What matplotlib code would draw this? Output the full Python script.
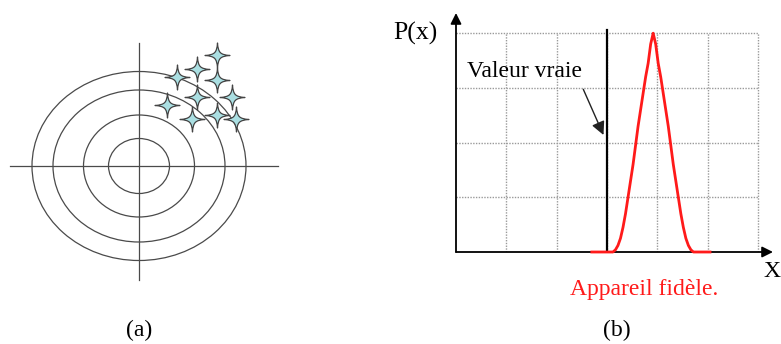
import matplotlib
matplotlib.use("Agg")
import matplotlib.pyplot as plt
from matplotlib.patches import Ellipse
from matplotlib.path import Path

plt.rcParams['font.family'] = ['Liberation Serif', 'DejaVu Serif']

# ---- panel (a): target with scattered shots (units: pixels from the centre)
ring_widths = [61, 111, 172, 214]
ring_heights = [55, 102, 152, 189]
shot_x = [78, 58, 38, 78, 58, 93, 28, 78, 53, 97]
shot_y = [111, 97, 89, 86, 69, 69, 61, 51, 47, 47]

# ---- panel (b): probability density of a faithful instrument (grid units)
true_value = 3.0
curve_x = [2.70, 3.12, 3.17, 3.22, 3.27, 3.32, 3.37, 3.42, 3.47, 3.52, 3.57,
           3.62, 3.67, 3.72, 3.77, 3.82, 3.87, 3.92,
           3.97, 4.02, 4.07, 4.12, 4.17, 4.22, 4.27, 4.32, 4.37, 4.42,
           4.47, 4.52, 4.57, 4.62, 4.67, 4.72, 5.05]
curve_y = [0.0, 0.0, 0.04, 0.12, 0.25, 0.45, 0.7, 1.0, 1.3, 1.6, 1.95,
           2.3, 2.6, 2.9, 3.2, 3.45, 3.8, 4.0,
           3.8, 3.45, 3.2, 2.9, 2.6, 2.3, 1.95, 1.6, 1.3, 1.0,
           0.7, 0.45, 0.25, 0.12, 0.04, 0.0, 0.0]
grid_x = [1, 2, 3, 4, 5, 6]
grid_y = [1, 2, 3, 4]

W, H = 781, 344
fig = plt.figure(figsize=(W / 100, H / 100), dpi=100)


def px_axes(left, top, right, bottom):
    return fig.add_axes([left / W, 1 - bottom / H, (right - left) / W, (bottom - top) / H])


# four-pointed sparkle marker
c1, c2 = 0.22, 0.06
verts = [(1, 0), (c1, c2), (c2, c1), (0, 1),
         (-c2, c1), (-c1, c2), (-1, 0),
         (-c1, -c2), (-c2, -c1), (0, -1),
         (c2, -c1), (c1, -c2), (1, 0), (1, 0)]
codes = [Path.MOVETO] + [Path.CURVE4] * 12 + [Path.CLOSEPOLY]
sparkle = Path(verts, codes)

# panel (a)
axa = px_axes(0, 30, 290, 290)
axa.set_xlim(-139, 151)
axa.set_ylim(-124, 136)
axa.axis('off')
ring_color = '#4a4a4a'
for w, h in zip(ring_widths, ring_heights):
    axa.add_patch(Ellipse((0, 0), w, h, fill=False, edgecolor=ring_color, lw=0.9))
axa.plot([-129, 139], [0, 0], color=ring_color, lw=0.9)
axa.plot([0, 0], [-114, 123], color=ring_color, lw=0.9)
axa.scatter(shot_x, shot_y, marker=sparkle, s=18 ** 2, facecolor='#aadfe2',
            edgecolor='#444444', linewidths=0.9, zorder=5)

# panel (b)
x0, y0 = 456, 252
sx, sy = 50.3, 54.7
axb = px_axes(x0, 13, 775, y0)
axb.set_xlim(0, (775 - x0) / sx)
axb.set_ylim(0, (y0 - 13) / sy)
axb.axis('off')

for gx in grid_x:
    axb.plot([gx, gx], [0, 4], color='#9a9a9a', lw=1.0, ls=(0, (1, 1)), zorder=1)
for gy in grid_y:
    axb.plot([0, 6], [gy, gy], color='#9a9a9a', lw=1.0, ls=(0, (1, 1)), zorder=1)

axb.annotate('', xy=(0, (y0 - 13) / sy), xytext=(0, 0),
             arrowprops=dict(arrowstyle='-|>', color='black', lw=1.3,
                             mutation_scale=16, shrinkA=0, shrinkB=0),
             annotation_clip=False)
axb.annotate('', xy=((773 - x0) / sx, 0), xytext=(0, 0),
             arrowprops=dict(arrowstyle='-|>', color='black', lw=1.3,
                             mutation_scale=16, shrinkA=0, shrinkB=0),
             annotation_clip=False)

axb.plot([true_value, true_value], [0, 4.05], color='black', lw=1.6, zorder=3)
axb.plot(curve_x, curve_y, color='#ff1a1a', lw=2.0, zorder=4, clip_on=False)

axb.text((415 - x0) / sx, (y0 - 40) / sy, 'P(x)', fontsize=18.5, ha='center',
         va='baseline', color='black')
axb.text((467 - x0) / sx, (y0 - 77) / sy, 'Valeur vraie', fontsize=17,
         ha='left', va='baseline', color='black')
axb.annotate('', xy=((603.5 - x0) / sx, (y0 - 135) / sy),
             xytext=((583.3 - x0) / sx, (y0 - 89.3) / sy),
             arrowprops=dict(arrowstyle='-|>', color='#222222', lw=1.0,
                             mutation_scale=20, shrinkA=0, shrinkB=0))
axb.text((763 - x0) / sx, (y0 - 277) / sy, 'X', fontsize=17, ha='left',
         va='baseline', color='black', clip_on=False)
axb.text((644 - x0) / sx, (y0 - 295) / sy, 'Appareil fidèle.', fontsize=17,
         ha='center', va='baseline', color='#ff1a1a', clip_on=False)

fig.text(139.5 / W, 1 - 336.5 / H, '(a)', fontsize=17, ha='center', va='baseline')
fig.text(617 / W, 1 - 336.5 / H, '(b)', fontsize=17, ha='center', va='baseline')

fig.savefig('out.png', dpi=100, facecolor='white')
